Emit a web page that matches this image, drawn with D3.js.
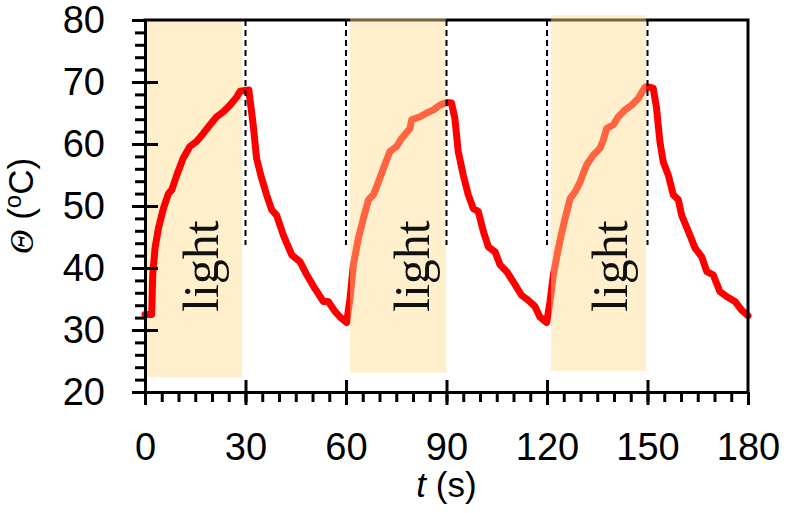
<!DOCTYPE html>
<html>
<head>
<meta charset="utf-8">
<script src="https://cdn.jsdelivr.net/npm/d3@7"></script>
<style>
  body { margin: 0; background: #fff; }
  svg { display: block; }
  .tick-label { font-family: 'Liberation Sans', Arial, sans-serif; font-size: 38px; fill: #000; }
  .axis-title { font-family: 'Liberation Sans', Arial, sans-serif; font-size: 35px; fill: #000; }
  .light-label { font-family: 'Liberation Serif', 'Times New Roman', serif; font-size: 50px; fill: #111; }
</style>
</head>
<body>
<div id="chart"></div>
<script>
// temperature trace: time (s) and temperature (C)
const timeS = [
  0, 2.0, 2.3, 3.0, 4.0, 5.5, 7.0, 8.0, 9.5, 11.4, 13.4, 15.4, 17.4, 19.4, 21.4, 23.4, 25.4, 27.4, 28.4, 31.0,
  32.3, 33.3, 34.8, 36.3, 37.8, 39.3, 41.3, 43.8, 46.3, 48.3, 50.7, 53.2, 54.7, 56.7, 58.2, 60.2,
  61.2, 62.2, 63.7, 65.2, 66.7, 68.2, 69.7, 71.2, 73.1, 75.1, 76.6, 79.1, 79.6, 82.1, 84.1, 86.1, 88.1, 90.0, 91.5,
  92.5, 93.5, 95.0, 96.5, 98.0, 99.5, 101.0, 102.5, 104.5, 106.0, 108.0, 109.9, 112.4, 114.4, 116.4, 117.9, 119.9,
  120.9, 121.9, 123.4, 124.9, 126.9, 128.4, 129.9, 131.8, 133.8, 135.8, 136.8, 137.8, 139.8, 141.3, 143.3, 145.3, 147.3, 149.3, 150.2, 151.7,
  152.7, 153.7, 154.7, 156.2, 157.7, 159.2, 160.2, 162.2, 164.2, 166.2, 167.7, 169.6, 171.6, 173.6, 176.1, 178.1, 180
];
const tempC = [
  32.5, 32.5, 38.9, 43.2, 46.4, 49.6, 52.0, 52.6, 55.0, 57.7, 59.6, 60.4, 61.7, 63.1, 64.4, 65.2, 66.3, 67.6, 68.5, 68.7,
  63.1, 57.7, 54.5, 51.8, 49.4, 48.5, 45.3, 42.1, 41.0, 38.9, 36.7, 34.6, 34.6, 33.0, 32.1, 31.2,
  35.1, 40.5, 44.8, 48.0, 51.0, 51.8, 53.9, 56.1, 58.8, 59.6, 60.9, 62.5, 63.9, 64.4, 65.0, 65.5, 66.3, 66.7, 66.6,
  64.1, 58.8, 55.0, 51.8, 49.6, 49.1, 45.9, 43.4, 42.6, 40.5, 39.4, 37.8, 35.6, 34.8, 33.8, 32.1, 31.2,
  34.6, 38.9, 43.2, 46.9, 51.2, 52.3, 53.9, 56.6, 58.2, 59.3, 60.6, 62.5, 63.1, 64.4, 65.5, 66.3, 67.4, 69.2, 69.2, 69.0,
  65.8, 60.4, 57.1, 55.0, 51.8, 51.0, 48.5, 45.9, 43.2, 41.8, 39.4, 38.9, 36.2, 35.4, 34.6, 33.2, 32.3
];

// light-on periods (s) and the extent of the shaded boxes (C)
const lightStart = [0.3, 61.2, 121.2];
const lightEnd = [29.0, 89.9, 149.6];
const lightTop = [80, 80.3, 80.8];
const lightBottom = [22.4, 23.1, 23.4];
const lightLabelT = [21.8, 84.8, 143.9];
const switchTimes = [30, 60, 90, 120, 150];

const xTicks = [0, 30, 60, 90, 120, 150, 180];
const yTicks = [20, 30, 40, 50, 60, 70, 80];

const width = 790;
const height = 513;
const margin = { top: 20, right: 42, bottom: 121, left: 145 };

const svg = d3.select('#chart').append('svg')
  .attr('width', width)
  .attr('height', height);

const x = d3.scaleLinear().domain([0, 180]).range([margin.left, width - margin.right]);
const y = d3.scaleLinear().domain([20, 80]).range([height - margin.bottom, margin.top]);

const boxFill = 'rgb(255,220,141)';
const boxes = d3.range(lightStart.length).map(i => ({
  start: lightStart[i], end: lightEnd[i], top: lightTop[i], bottom: lightBottom[i], labelT: lightLabelT[i]
}));

// first light box sits behind the trace
svg.append('rect')
  .attr('x', x(boxes[0].start))
  .attr('y', y(boxes[0].top))
  .attr('width', x(boxes[0].end) - x(boxes[0].start))
  .attr('height', y(boxes[0].bottom) - y(boxes[0].top))
  .attr('fill', '#ffefcb');

// temperature trace
const line = d3.line()
  .x((d, i) => x(timeS[i]))
  .y(d => y(d));

svg.append('path')
  .datum(tempC)
  .attr('d', line)
  .attr('fill', 'none')
  .attr('stroke', '#ff0000')
  .attr('stroke-width', 7)
  .attr('stroke-linejoin', 'round')
  .attr('stroke-linecap', 'round');

// axes
const xAxisY = y(20);
const axisG = svg.append('g').attr('class', 'axes');

const xMinor = d3.axisBottom(x).tickValues(d3.range(0, 181, 5)).tickSize(10).tickFormat('').tickSizeOuter(0);
const xMajorOut = d3.axisBottom(x).tickValues(xTicks).tickSize(13).tickPadding(28).tickSizeOuter(0);
const xMajorIn = d3.axisBottom(x).tickValues(xTicks.slice(1, -1)).tickSize(-12).tickFormat('').tickSizeOuter(0);

const yMinor = d3.axisLeft(y).tickValues(d3.range(20, 81, 2)).tickSize(10).tickFormat('').tickSizeOuter(0);
const yMajorOut = d3.axisLeft(y).tickValues(yTicks).tickSize(13).tickPadding(27).tickSizeOuter(0);
const yMajorIn = d3.axisLeft(y).tickValues(yTicks.slice(1, -1)).tickSize(-13).tickFormat('').tickSizeOuter(0);

[xMinor, xMajorOut, xMajorIn].forEach(ax => {
  axisG.append('g').attr('transform', `translate(0,${xAxisY})`).call(ax);
});
[yMinor, yMajorOut, yMajorIn].forEach(ax => {
  axisG.append('g').attr('transform', `translate(${margin.left},0)`).call(ax);
});

axisG.selectAll('.domain').attr('stroke', '#000').attr('stroke-width', 3);
axisG.selectAll('.tick line').attr('stroke', '#000').attr('stroke-width', 3);
axisG.selectAll('.tick text').attr('class', 'tick-label').attr('font-size', null).attr('font-family', null);

// top and right frame
axisG.append('path')
  .attr('d', `M${x(0) - 1.5},${y(80)}H${x(180)}V${y(20)}`)
  .attr('fill', 'none')
  .attr('stroke', '#000')
  .attr('stroke-width', 3);

// remaining light boxes are laid semi-transparently over the trace
svg.selectAll('.light-box')
  .data(boxes.slice(1))
  .join('rect')
  .attr('class', 'light-box')
  .attr('x', d => x(d.start))
  .attr('y', d => y(d.top))
  .attr('width', d => x(d.end) - x(d.start))
  .attr('height', d => y(d.bottom) - y(d.top))
  .attr('fill', boxFill)
  .attr('fill-opacity', 0.45);

// dashed switch markers
svg.selectAll('.switch')
  .data(switchTimes)
  .join('line')
  .attr('class', 'switch')
  .attr('x1', d => x(d))
  .attr('x2', d => x(d))
  .attr('y1', y(80))
  .attr('y2', y(43.7))
  .attr('stroke', '#000')
  .attr('stroke-width', 2)
  .attr('stroke-dasharray', '6,4');

// "light" labels
svg.selectAll('.light-label')
  .data(boxes)
  .join('text')
  .attr('class', 'light-label')
  .attr('transform', d => `translate(${x(d.labelT)},${y(40.3)}) rotate(-90)`)
  .attr('text-anchor', 'middle')
  .text('light');

// axis titles
const xTitle = svg.append('text')
  .attr('class', 'axis-title')
  .attr('x', (x(0) + x(180)) / 2)
  .attr('y', 497)
  .attr('text-anchor', 'middle');
xTitle.append('tspan').attr('font-style', 'italic').text('t');
xTitle.append('tspan').text(' (s)');

const yTitle = svg.append('text')
  .attr('class', 'axis-title')
  .attr('transform', `translate(33,${(y(20) + y(80)) / 2}) rotate(-90)`)
  .attr('text-anchor', 'middle');
yTitle.append('tspan')
  .attr('font-family', "'Liberation Serif', serif")
  .attr('font-style', 'italic')
  .attr('font-size', 34)
  .text('Θ');
yTitle.append('tspan').text(' (');
yTitle.append('tspan').attr('font-size', 24).attr('dy', -12).text('o');
yTitle.append('tspan').attr('dy', 12).text('C)');
</script>
</body>
</html>
